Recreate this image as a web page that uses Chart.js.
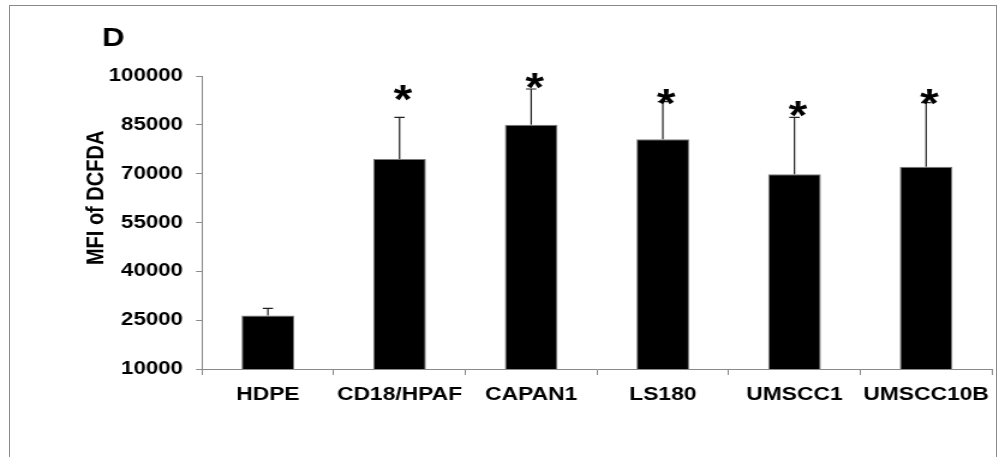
<!DOCTYPE html>
<html><head><meta charset="utf-8">
<script src="https://cdn.jsdelivr.net/npm/chart.js@4.4.0/dist/chart.umd.min.js"></script>
<style>
html,body{margin:0;padding:0;background:#fff;overflow:hidden;}
#wrap{position:relative;width:999px;height:457px;background:#fff;}
#frame{position:absolute;left:9px;top:5px;width:988px;height:470px;border:1px solid #8a8a8a;border-bottom:none;box-sizing:border-box;}
#c{position:absolute;left:0;top:0;}
</style></head>
<body><div id="wrap"><div id="frame"></div><canvas id="c" width="832" height="457" style="width:999px;height:457px"></canvas></div>
<script>
const categories = ['HDPE', 'CD18/HPAF', 'CAPAN1', 'LS180', 'UMSCC1', 'UMSCC10B'];
const meanValues = [26400, 74500, 85000, 80600, 69800, 72100];
const errorValues = [2200, 12800, 11000, 11500, 17500, 19700];
const starValues = [null, 94900, 98600, 93600, 90000, 93600];
const yTicks = [10000, 25000, 40000, 55000, 70000, 85000, 100000];
const yTitle = 'MFI of DCFDA';
const panelLabel = 'D';

const FONT = "'Liberation Sans', Arial, Helvetica, sans-serif";
const GREY = '#8a8a8a';

const extras = {
  id: 'extras',
  afterDatasetsDraw(chart) {
    const ctx = chart.ctx;
    const ys = chart.scales.y;
    const meta = chart.getDatasetMeta(0);
    ctx.save();
    // error bars (upper only)
    meta.data.forEach((bar, i) => {
      const x = bar.x;
      const top = ys.getPixelForValue(meanValues[i] + errorValues[i]);
      ctx.strokeStyle = '#222';
      ctx.lineWidth = 1.2;
      ctx.beginPath();
      ctx.moveTo(x, bar.y);
      ctx.lineTo(x, top);
      ctx.moveTo(x - 4.3, top);
      ctx.lineTo(x + 4.3, top);
      ctx.stroke();
    });
    // significance stars
    ctx.fillStyle = '#000';
    ctx.font = 'bold 40px ' + FONT;
    ctx.textAlign = 'left';
    ctx.textBaseline = 'alphabetic';
    const m = ctx.measureText('*');
    const gw = m.actualBoundingBoxLeft + m.actualBoundingBoxRight;
    const gh = m.actualBoundingBoxAscent - m.actualBoundingBoxDescent;
    meta.data.forEach((bar, i) => {
      if (starValues[i] == null) return;
      const cy = ys.getPixelForValue(starValues[i]);
      const cx = bar.x + 3;
      ctx.fillText('*', cx - gw / 2 + m.actualBoundingBoxLeft, cy + gh / 2);
    });
    // y axis title
    const ca = chart.chartArea;
    ctx.save();
    ctx.translate(80.5, ca.top + (ca.bottom - ca.top) * 0.416);
    ctx.rotate(-Math.PI / 2);
    ctx.font = 'bold 20px ' + FONT;
    ctx.textAlign = 'center';
    ctx.textBaseline = 'middle';
    ctx.fillText(yTitle, 0, 0);
    ctx.restore();
    // panel label
    ctx.font = 'bold 26px ' + FONT;
    ctx.textAlign = 'left';
    ctx.textBaseline = 'alphabetic';
    ctx.fillText(panelLabel, 85, 45.7);
    ctx.restore();
  }
};

new Chart(document.getElementById('c'), {
  type: 'bar',
  data: {
    labels: categories,
    datasets: [{
      data: meanValues,
      backgroundColor: '#000',
      borderColor: '#7a7a7a',
      borderWidth: 1,
      barPercentage: 0.4,
      categoryPercentage: 1.0
    }]
  },
  options: {
    responsive: false,
    animation: false,
    devicePixelRatio: 1,
    layout: { padding: { left: 90.6, right: 5.3, top: 76, bottom: 50.2 } },
    plugins: { legend: { display: false }, tooltip: { enabled: false }, title: { display: false } },
    scales: {
      x: {
        offset: true,
        afterFit: s => { s.height = 37.8; },
        grid: { display: true, offset: true, drawOnChartArea: false, drawTicks: true, tickLength: 6, color: GREY, lineWidth: 1 },
        border: { display: true, color: GREY, width: 1 },
        ticks: { color: '#000', font: { family: FONT, size: 19, weight: 'bold' }, padding: 8, maxRotation: 0, autoSkip: false }
      },
      y: {
        min: 10000,
        max: 100000,
        afterFit: s => { s.width = 77.7; },
        afterBuildTicks: s => { s.ticks = yTicks.map(v => ({ value: v })); },
        grid: { display: true, drawOnChartArea: false, drawTicks: true, tickLength: 5, color: GREY, lineWidth: 1 },
        border: { display: true, color: GREY, width: 1 },
        ticks: { color: '#000', font: { family: FONT, size: 18.5, weight: 'bold' }, padding: 11, callback: v => String(v) }
      }
    }
  },
  plugins: [extras]
});
</script>
</body></html>
